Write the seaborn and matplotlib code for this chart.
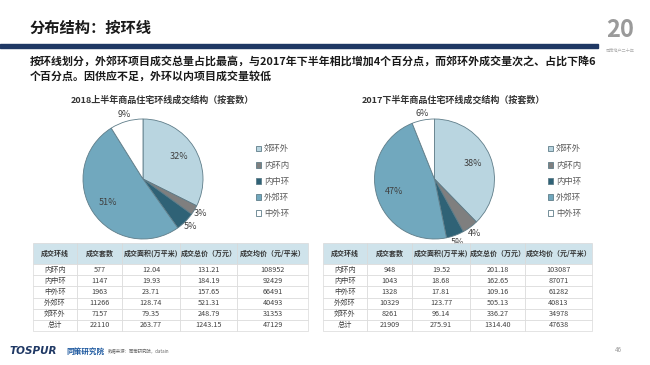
import numpy as np
import pandas as pd
import seaborn as sns
import matplotlib.pyplot as plt

sns.set_theme(style="white")
## set font list after set_theme, otherwise it gets overwritten
plt.rcParams['font.family'] = ['Noto Sans CJK SC', 'DejaVu Sans']

# pie data (order as drawn, clockwise from 12 o'clock)
pie_labels = ["郊环外", "内环内", "内中环", "外郊环", "中外环"]
pie_2018h1 = [7157, 577, 1147, 11266, 1963]
pie_2017h2 = [8261, 948, 1043, 10329, 1328]
pie_colors = ["#b9d5e0", "#7f7f7f", "#2f6276", "#71a8be", "#ffffff"]

# table data
tbl_cols = ["成交环线", "成交套数", "成交面积(万平米)", "成交总价（万元）", "成交均价（元/平米）"]
tbl_rows = ["内环内", "内中环", "中外环", "外郊环", "郊环外", "总计"]
t18_sets = ["577", "1147", "1963", "11266", "7157", "22110"]
t18_area = ["12.04", "19.93", "23.71", "128.74", "79.35", "263.77"]
t18_total = ["131.21", "184.19", "157.65", "521.31", "248.79", "1243.15"]
t18_avg = ["108952", "92429", "66491", "40493", "31353", "47129"]
t17_sets = ["948", "1043", "1328", "10329", "8261", "21909"]
t17_area = ["19.52", "18.68", "17.81", "123.77", "96.14", "275.91"]
t17_total = ["201.18", "162.65", "109.16", "505.13", "336.27", "1314.40"]
t17_avg = ["103087", "87071", "61282", "40813", "34978", "47638"]

W, H = 650, 365
fig = plt.figure(figsize=(6.5, 3.65), dpi=100)


def px(x, y):
    ## pixel coords (top-left origin) -> figure fraction
    return x / W, 1 - y / H


# header
fig.text(*px(30, 28), "分布结构：按环线", fontsize=11, fontweight="bold", color="#1a1a1a", va="center")
fig.add_artist(plt.Rectangle(px(0, 48), 598 / W, 4 / H, color="#1f3864", transform=fig.transFigure))
fig.text(*px(30, 61), "按环线划分，外郊环项目成交总量占比最高，与2017年下半年相比增加4个百分点，而郊环外成交量次之、占比下降6",
         fontsize=7.9, fontweight="bold", color="#1a1a1a", va="center")
fig.text(*px(30, 76), "个百分点。因供应不足，外环以内项目成交量较低",
         fontsize=7.9, fontweight="bold", color="#1a1a1a", va="center")
fig.text(*px(620, 30), "20", fontsize=17, fontweight="bold", color="#9a9a9a", va="center", ha="center")
fig.text(*px(620, 50), "同策地产二十年", fontsize=3, color="#b0b0b0", va="center", ha="center")


def draw_pie(cx, cy, values, title, legend_x):
    ax = fig.add_axes([(cx - 75) / W, 1 - (cy + 75) / H, 150 / W, 150 / H])
    total = sum(values)
    wedges, _ = ax.pie(values, colors=pie_colors, startangle=90, counterclock=False,
                       wedgeprops=dict(edgecolor="#5f7d89", linewidth=0.6))
    ax.set_xlim(-1.25, 1.25)
    ax.set_ylim(-1.25, 1.25)
    for w, v in zip(wedges, values):
        share = v / total
        mid = np.deg2rad((w.theta1 + w.theta2) / 2)
        r = 0.7 if share > 0.2 else 1.12
        ax.text(r * np.cos(mid), r * np.sin(mid), f"{share:.0%}", fontsize=6.5,
                color="#404040", ha="center", va="center")
    fig.text(*px(cx + 19, 100), title, fontsize=6.5, fontweight="bold", color="#333333",
             ha="center", va="center")
    fig.legend(wedges, pie_labels, loc="upper left", bbox_to_anchor=px(legend_x, 137),
               frameon=False, fontsize=6, labelspacing=0.85, handlelength=0.7, handleheight=0.7,
               handletextpad=0.3, labelcolor="#595959")


draw_pie(143, 179, pie_2018h1, "2018上半年商品住宅环线成交结构（按套数）", 248)
draw_pie(434.5, 179, pie_2017h2, "2017下半年商品住宅环线成交结构（按套数）", 540)


def draw_table(x0, x1, cols_w, sets, area, total, avg):
    df = pd.DataFrame({tbl_cols[0]: tbl_rows, tbl_cols[1]: sets, tbl_cols[2]: area,
                       tbl_cols[3]: total, tbl_cols[4]: avg})
    ax = fig.add_axes([x0 / W, 1 - 331 / H, (x1 - x0) / W, 88 / H])
    ax.axis("off")
    widths = np.array(cols_w) / sum(cols_w)
    tb = ax.table(cellText=df.values, colLabels=df.columns, colWidths=widths,
                  cellLoc="center", bbox=[0, 0, 1, 1])
    tb.auto_set_font_size(False)
    hh = 21 / 88
    rh = (1 - hh) / len(tbl_rows)
    for (r, c), cell in tb.get_celld().items():
        cell.set_edgecolor("#d9d9d9")
        cell.set_linewidth(0.5)
        cell.get_text().set_fontsize(5.2)
        cell.get_text().set_color("#404040")
        if r == 0:
            cell.set_height(hh)
            cell.set_facecolor("#cfe3eb")
            cell.get_text().set_fontweight("bold")
            cell.get_text().set_fontsize(5)
            cell.get_text().set_color("#333333")
        else:
            cell.set_height(rh)
            cell.set_facecolor("white")


draw_table(33, 308, [44, 45, 58, 57, 71], t18_sets, t18_area, t18_total, t18_avg)
draw_table(323, 592, [44, 45, 58, 55, 67], t17_sets, t17_area, t17_total, t17_avg)

# footer
fig.text(*px(10, 351), "TOSPUR", fontsize=7.5, fontweight="bold", fontstyle="italic",
         color="#1f3864", va="center", family=["DejaVu Sans"])
fig.text(*px(66, 351), "同策研究院", fontsize=5.5, fontweight="bold", color="#1f5aa0", va="center")
fig.text(*px(108, 352), "数据来源：同策研究院，datain", fontsize=3.2, color="#666666", va="center")
fig.text(*px(618, 350), "46", fontsize=4.5, color="#999999", va="center", ha="center")

fig.savefig("out.png", dpi=100)
